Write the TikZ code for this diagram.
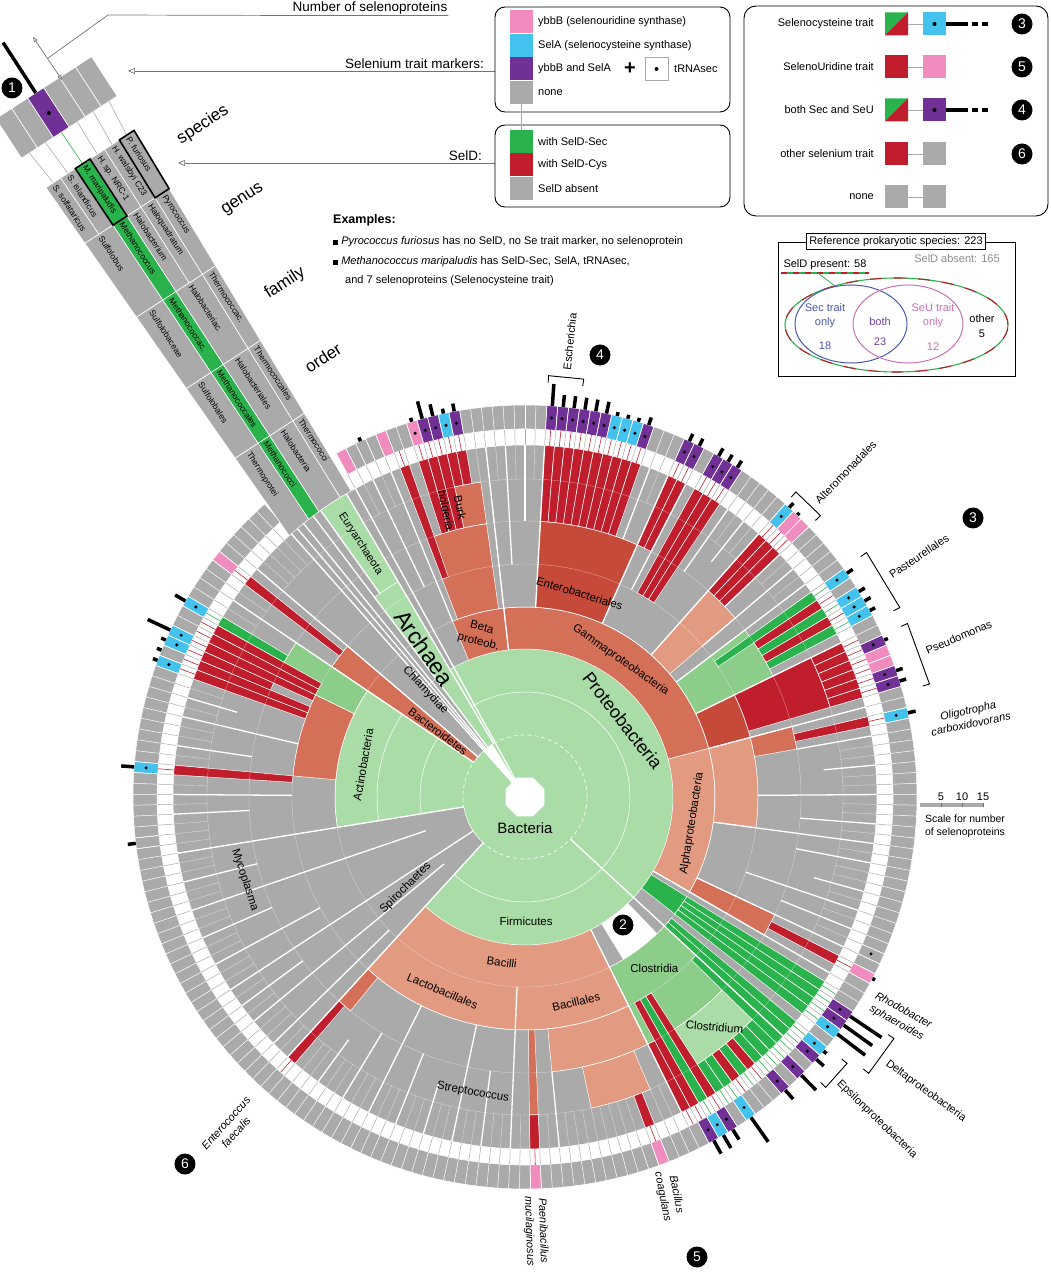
\documentclass[tikz,border=0pt]{standalone}
\usepackage{fontspec}
\setmainfont{Liberation Sans}
\usetikzlibrary{arrows.meta}

\definecolor{cgrey}{RGB}{170,170,170}
\definecolor{sgreen}{RGB}{42,178,76}
\definecolor{sred}{RGB}{192,30,45}
\definecolor{lgreen}{RGB}{170,220,168}
\definecolor{mgreen}{RGB}{140,205,138}
\definecolor{lsalmon}{RGB}{226,154,128}
\definecolor{salmon}{RGB}{212,112,88}
\definecolor{dsalmon}{RGB}{198,74,58}
\definecolor{mpink}{RGB}{240,140,190}
\definecolor{mcyan}{RGB}{66,194,236}
\definecolor{mpurple}{RGB}{112,48,150}
\definecolor{secblue}{RGB}{72,86,172}
\definecolor{seupink}{RGB}{200,112,180}
\definecolor{bothpurple}{RGB}{112,64,160}

\newcommand{\fsz}[1]{\fontsize{#1}{#1}\selectfont\baselineskip=1.25\baselineskip}
% annular sector: angles #1,#2, radii #3,#4
\newcommand{\asect}[5]{\filldraw[fill=#5,draw=white,line width=0.5] (#1:#3) arc[start angle=#1,end angle=#2,radius=#3] -- (#2:#4) arc[start angle=#2,end angle=#1,radius=#4] -- cycle;}
% the same over species cells #1..#2
\newcommand{\ksect}[5]{\pgfmathsetmacro\kA{118.8-1.6*#1}\pgfmathsetmacro\kB{118.8-1.6*(#2+1)}\asect{\kA}{\kB}{#3}{#4}{#5}}
% one species strip out to the white ring
\newcommand{\sstrip}[3]{\ksect{#1}{#1}{#2}{352}{#3}\pgfmathsetmacro\kC{118-1.6*#1}\draw[#3,line width=0.6] (\kC:352) -- (\kC:368);}
% bracket
\newcommand{\brak}[3]{\draw[line width=0.9] (#1:{#3-7}) -- (#1:#3) -- (#2:#3) -- (#2:{#3-7});}
% cell of the archaea beam: from #1 to #2, columns #3..#4
\newcommand{\bcell}[7]{\filldraw[fill=#5,draw=white,line width=0.6] ({#1},{(#3/6-0.5)*(105-0.068*(#1))}) -- ({#2},{(#3/6-0.5)*(105-0.068*(#2))}) -- ({#2},{(#4/6-0.5)*(105-0.068*(#2))}) -- ({#1},{(#4/6-0.5)*(105-0.068*(#1))}) -- cycle;
 \node[anchor=west,rotate=-57,font=\fsz{8.5},inner sep=0pt] (#6) at ({#1+3},{((#3+#4)/12-0.5)*(105-0.068*(#1))}) {#7};}

\begin{document}
\begin{tikzpicture}[x=1pt,y=1pt,
  lab/.style={font=\fsz{11},inner sep=1pt},
  clab/.style={font=\fsz{11.5},inner sep=0pt},
  ilab/.style={font=\fsz{11}\itshape,inner sep=1pt,align=center},
  num/.style={circle,fill=black,text=white,inner sep=0pt,minimum size=21pt,font=\fsz{14}},
  sq/.style={minimum size=23pt,inner sep=0pt,outer sep=0pt},
  leader/.style={draw=black!55,line width=0.7pt},
  openarr/.style={-{Triangle[open,length=7pt,width=6pt]}},
  bar/.style={line width=3.5pt},
  blab/.style={font=\fsz{17},inner sep=0pt,rotate=33}]

\useasboundingbox (-525,-483) rectangle (525,797);

% marker ring
\asect{118.8}{-228.4}{368}{392}{cgrey}
\foreach \ka/\col/\dt/\bl in {0/mpink/0/0,2/cgrey/0/4,4/mpink/0/0,7/mpink/1/4,8/mpurple/1/18,9/mpurple/1/12,10/mcyan/1/5,11/mpurple/1/8,
  20/mpurple/1/22,21/mpurple/1/12,22/mpurple/1/12,23/mpurple/1/12,24/mpurple/1/12,25/mpurple/1/12,26/mcyan/1/4,27/mcyan/1/4,28/mcyan/1/4,29/mpurple/1/8,
  33/mpurple/1/8,34/mpurple/1/8,36/mpurple/1/9,37/mpurple/1/8,38/mpurple/1/8,44/mcyan/1/6,45/mpink/0/3,46/mpink/0/0,
  52/mcyan/1/7,54/mcyan/1/7,55/mcyan/1/7,56/mcyan/1/6,59/mpurple/1/4,60/mpink/0/0,61/mpink/0/0,62/mpurple/1/7,63/mpurple/1/7,
  66/mcyan/1/8,89/cgrey/1/0,91/mpink/0/3,95/mpurple/1/38,96/mpurple/1/35,97/mcyan/1/35,99/mcyan/1/4,100/mpurple/1/10,
  102/mpurple/1/21,104/mpurple/1/12,108/mcyan/1/30,110/mpurple/1/12,111/mcyan/1/15,112/mpurple/1/15,117/mpink/0/0,129/mpink/0/0,
  182/cgrey/0/8,189/mcyan/1/13,199/mcyan/1/5,200/cgrey/0/5,201/mcyan/1/5,202/mcyan/1/25,205/mcyan/1/12,210/mpink/0/0} {
  \pgfmathsetmacro\mkA{118.8-1.6*\ka}\pgfmathsetmacro\mkB{\mkA-1.6}\pgfmathsetmacro\mkC{\mkA-0.8}
  \asect{\mkA}{\mkB}{368}{392}{\col}
  \ifnum\dt=1 \fill (\mkC:380) circle (1.7);\fi
  \draw[bar] (\mkC:392) -- (\mkC:{392+\bl});
}
\foreach \ka in {0,...,217} {
  \pgfmathsetmacro\mkA{118.8-1.6*\ka}
  \draw[cgrey,line width=0.5] (\mkA:352) -- (\mkA:368);
  \draw[white,line width=0.5] (\mkA:368) -- (\mkA:392);
}

% archaea beam
\begin{scope}[shift={(-435,638)},rotate=-57]
  \foreach \cl/\col in {0/cgrey,1/cgrey,2/mpurple,3/cgrey,4/cgrey,5/cgrey}
    \filldraw[fill=\col,draw=white,line width=0.6] (-85,{(\cl/6-0.5)*114}) -- (-38,{(\cl/6-0.5)*114}) -- (-38,{((\cl+1)/6-0.5)*114}) -- (-85,{((\cl+1)/6-0.5)*114}) -- cycle;
  \fill (-61,-9.5) circle (2);
  \draw[bar] (-85,-9.5) -- (-145,-9.5);
  \foreach \cl/\col in {0/cgrey,1/cgrey,2/sgreen,3/cgrey,4/cgrey,5/cgrey}
    \draw[\col,line width=0.6] (-38,{((2*\cl+1)/12-0.5)*114}) -- (0,{((2*\cl+1)/12-0.5)*105});
  \bcell{0}{68}{0}{1}{cgrey}{bs1}{S. solfataricus}
  \bcell{0}{68}{1}{2}{cgrey}{bs2}{S. islandicus}
  \bcell{0}{68}{2}{3}{sgreen}{bs3}{M. maripaludis}
  \bcell{0}{68}{3}{4}{cgrey}{bs4}{H. sp. NRC-1}
  \bcell{0}{68}{4}{5}{cgrey}{bs5}{H. walsbyi C23}
  \bcell{0}{68}{5}{6}{cgrey}{bs6}{P. furiosus}
  \bcell{68}{158}{0}{2}{cgrey}{bg1}{Sulfolobus}
  \bcell{68}{158}{2}{3}{sgreen}{bg2}{Methanococcus}
  \bcell{68}{158}{3}{4}{cgrey}{bg3}{Halobacterium}
  \bcell{68}{158}{4}{5}{cgrey}{bg4}{Haloquadratum}
  \bcell{68}{158}{5}{6}{cgrey}{bg5}{Pyrococcus}
  \bcell{158}{245}{0}{2}{cgrey}{bf1}{Sulfolobaceae}
  \bcell{158}{245}{2}{3}{sgreen}{bf2}{Methanococcac.}
  \bcell{158}{245}{3}{5}{cgrey}{bf3}{Halobacteriac.}
  \bcell{158}{245}{5}{6}{cgrey}{bf4}{Thermococcac.}
  \bcell{245}{330}{0}{2}{cgrey}{bo1}{Sulfolobales}
  \bcell{245}{330}{2}{3}{sgreen}{bo2}{Methanococcales}
  \bcell{245}{330}{3}{5}{cgrey}{bo3}{Halobacteriales}
  \bcell{245}{330}{5}{6}{cgrey}{bo4}{Thermococcales}
  \bcell{330}{440}{0}{2}{cgrey}{bc1}{Thermoprotei}
  \bcell{330}{440}{2}{3}{sgreen}{bc2}{Methanococci}
  \bcell{330}{440}{3}{5}{cgrey}{bc3}{Halobacteria}
  \bcell{330}{440}{5}{6}{cgrey}{bc4}{Thermococci}
  \draw[line width=1.6] (0,-17.5) -- (68,{-(105-0.068*68)/6}) -- (68,0) -- (0,0) -- cycle;
  \draw[line width=1.6] (0,35) -- (68,{(105-0.068*68)/3}) -- (68,{(105-0.068*68)/2}) -- (0,52.5) -- cycle;
\end{scope}

% tree
\fill[lgreen] (0,0) circle (148);
\draw[white,line width=0.6,dash pattern=on 4pt off 3pt] (0,0) circle (62);
\draw[white,line width=0.5] (0,0) circle (105);
\foreach \ka/\kb/\ra/\rb/\col in {157/180/62/352/cgrey,208/211/62/233/salmon,208/211/233/352/cgrey,212/216/62/352/cgrey,
  0/13/148/352/cgrey,4/13/148/190/salmon,5/12/190/276/salmon,10/12/276/318/salmon,
  14/64/148/190/salmon,14/64/190/352/cgrey,20/32/190/276/dsalmon,44/48/190/276/lsalmon,51/57/190/276/mgreen,58/64/190/233/dsalmon,58/63/233/318/sred,
  65/92/148/190/lsalmon,65/92/190/352/cgrey,65/78/190/233/lsalmon,65/67/233/276/salmon,90/92/190/276/salmon,
  93/100/148/352/cgrey,94/97/148/190/sgreen,
  101/113/148/352/cgrey,103/110/148/190/white,101/113/190/276/mgreen,102/109/276/318/lgreen,
  114/156/148/233/lsalmon,114/156/233/352/cgrey,114/126/233/276/lsalmon,116/122/276/318/lsalmon,129/129/233/318/salmon,155/156/233/276/salmon,
  181/207/148/190/lgreen,181/207/190/352/cgrey,190/202/190/233/salmon,203/207/190/276/mgreen}
  {\ksect{\ka}{\kb}{\ra}{\rb}{\col}}
% archaea in the circle
\asect{118.8}{131.6}{148}{352}{cgrey}
\asect{127}{131.6}{62}{148}{cgrey}
\asect{120.5}{127}{62}{250}{lgreen}
\asect{120.5}{125.5}{250}{352}{lgreen}
\asect{122}{131.6}{18}{62}{white}
\foreach \ka/\rr/\col in {5/233/sred,7/276/sred,8/276/sred,9/276/sred,10/318/sred,11/318/sred,
  20/276/sred,21/276/sred,22/276/sred,23/276/sred,24/276/sred,25/276/sred,26/276/sred,27/276/sred,28/276/sred,29/276/sred,
  33/276/sred,34/276/sred,36/233/sred,37/233/sred,38/233/sred,44/276/sred,45/276/sred,46/276/sred,
  52/233/sgreen,53/276/sred,54/276/sgreen,55/276/sred,56/276/sgreen,
  58/318/sred,59/318/sred,60/318/sred,61/318/sred,62/318/sred,63/318/sred,66/276/sred,91/276/sred,
  94/190/sgreen,95/190/sgreen,96/190/sgreen,97/190/sgreen,99/190/sgreen,100/190/sgreen,
  101/233/sgreen,102/318/sgreen,103/318/sgreen,104/318/sgreen,105/318/sred,106/318/sgreen,107/318/sred,108/318/sgreen,
  109/318/sgreen,110/233/sred,111/233/sgreen,112/233/sred,113/276/sred,117/318/sred,129/318/sred,156/276/sred,
  189/233/sred,199/233/sred,200/233/sred,201/276/sred,202/233/sred,203/233/sred,204/233/sred,205/276/sgreen,210/233/sred}
  {\sstrip{\ka}{\rr}{\col}}
% white gaps between clades
\foreach \ka/\rr in {0/20,4/190,14/148,20/190,33/190,44/190,49/233,51/190,58/190,65/190,79/190,90/190,93/148,101/62,114/148,132/190,
  157/62,166/62,181/62,208/62,212/62,217/20,2/233,16/233,18/276,31/276,35/233,40/276,42/300,47/276,68/276,71/300,74/233,
  77/276,81/276,84/300,86/233,88/276,127/276,135/276,138/233,141/300,144/276,147/233,150/276,153/300,159/190,162/105,
  164/276,169/233,172/276,175/105,178/276,185/276,187/233,192/276,195/233,197/300}
  {\draw[white,line width=1.3] ({118.8-1.6*\ka}:\rr) -- ({118.8-1.6*\ka}:352);}
\foreach \ang/\rr in {120.5/62,127/62,125.5/250,129/62,130.3/62}
  {\draw[white,line width=1.3] (\ang:\rr) -- (\ang:352);}
\foreach \rr in {190,233,276,318}
  {\draw[white,opacity=0.45,line width=0.4] (0,0) circle (\rr);}
\foreach \ka in {0,...,217}
  {\draw[white,opacity=0.55,line width=0.4] ({118.8-1.6*\ka}:318) -- ({118.8-1.6*\ka}:352);}
\fill[white] (22.5:21) \foreach \t in {67.5,112.5,...,337.5} {-- (\t:21)} -- cycle;

% clade labels
\node[font=\fsz{15},inner sep=0pt] (lbBac) at (0,-31) {Bacteria};
\node[font=\fsz{18},inner sep=0pt,rotate=-52] (lbPro) at (38:124) {Proteobacteria};
\node[font=\fsz{23},inner sep=0pt,rotate=-55] (lbArc) at (124:180) {Archaea};
\node[clab,rotate=-35] (lbGam) at (55:167) {Gammaproteobacteria};
\node[clab,rotate=81] (lbAlp) at (-9:169) {Alphaproteobacteria};
\node[clab,rotate=-14,align=center] (lbBet) at (105.5:168) {Beta\\proteob.};
\node[clab,rotate=-17] (lbEnt) at (75:211) {Enterobacteriales};
\node[clab,rotate=-47] (lbChl) at (133:146) {Chlamydiae};
\node[clab,rotate=-37] (lbBct) at (143:109) {Bacteroidetes};
\node[clab,rotate=80] (lbAct) at (168.7:165) {Actinobacteria};
\node[font=\fsz{11},inner sep=0pt,rotate=-57] (lbEur) at (123:302) {Euryarchaeota};
\node[clab,rotate=-72] (lbMyc) at (196.5:292) {Mycoplasma};
\node[clab,rotate=45] (lbSpi) at (217.3:150) {Spirochaetes};
\node[clab] (lbFir) at (-89.5:124) {Firmicutes};
\node[clab,rotate=-7] (lbBci) at (-98:167) {Bacilli};
\node[clab,rotate=-23] (lbLac) at (-113:211) {Lactobacillales};
\node[clab,rotate=13] (lbBcl) at (-76:211) {Bacillales};
\node[clab,rotate=-10] (lbStr) at (-100:300) {Streptococcus};
\node[clab] (lbClo) at (-53:215) {Clostridia};
\node[clab,rotate=-5] (lbClm) at (-50.5:298) {Clostridium};
\node[clab,rotate=-78,align=center] (lbBur) at (104:297) {Burk\\holderia};

% outside labels
\node[lab,anchor=west,rotate=84] (lbEsc) at (84.4:428) {Escherichia};
\brak{86.8}{82}{422}
\node[lab,anchor=west,rotate=46] (lbAlt) at (45.3:414) {Alteromonadales};
\brak{48.4}{43.6}{408}
\node[lab,anchor=west,rotate=34] (lbPas) at (31.2:426) {Pasteurellales};
\brak{35.6}{26.8}{420}
\node[lab,anchor=west,rotate=23] (lbPse) at (20:426) {Pseudomonas};
\brak{24.4}{15.6}{420}
\node[ilab,anchor=west,rotate=12] (lbOli) at (10:410) {Oligotropha\\carboxidovorans};
\node[ilab,anchor=west,rotate=-29] (lbRho) at (-30.5:402) {Rhodobacter\\sphaeroides};
\node[lab,anchor=west,rotate=-36] (lbDel) at (-36.3:448) {Deltaproteobacteria};
\brak{-33.2}{-38.8}{441}
\node[lab,anchor=west,rotate=-44] (lbEps) at (-42.3:423) {Epsilonproteobacteria};
\brak{-39.6}{-44}{418}
\node[ilab,anchor=west,rotate=-79] (lbBco) at (-69.5:398) {Bacillus\\coagulans};
\node[ilab,anchor=west,rotate=-88] (lbPae) at (-88.6:398) {Paenibacillus\\mucilaginosus};
\node[ilab,anchor=east,rotate=48] (lbEnc) at (-131.6:408) {Enterococcus\\faecalis};

\node[num] (n1) at (-513,709) {1};
\node[num] (n2) at (98,-128) {2};
\node[num] (n3) at (448,279) {3};
\node[num] (n4) at (75,442) {4};
\node[num] (n5) at (172,-460) {5};
\node[num] (n6) at (-340,-367) {6};

% scale
\draw[cgrey,line width=3.5] (395,-8) -- (458,-8);
\foreach \xx/\v in {416/5,437/10,458/15} {
  \draw[black!55,line width=0.6] (\xx,-10) -- (\xx,-6);
  \node[font=\fsz{11},anchor=south,inner sep=1pt] (sc\v) at (\xx,-5) {\v};
}
\node[font=\fsz{10.5},align=center,inner sep=0pt] (sclab) at (440,-29) {Scale for number\\of selenoproteins};

% beam labels and leaders
\node[blab] (bspe) at (-322,672) {species};
\node[blab] (bgen) at (-282,597) {genus};
\node[blab] (bfam) at (-240,514) {family};
\node[blab] (bord) at (-202,439) {order};
\coordinate (nbtop) at (-492,760);
\coordinate (nbbot) at (-463,717);
\coordinate (nbmid) at (-477.5,738.5);
\draw[leader,{Triangle[open,length=5pt,width=4pt]}-{Triangle[open,length=5pt,width=4pt]}] (nbtop) -- (nbbot);
\node[font=\fsz{13.5},inner sep=1pt] (nsel) at (-155,789) {Number of selenoproteins};
\draw[leader] (nsel.south east) -- (nsel.south west) -- (-417,782) -- (nbmid);
\node[font=\fsz{13.5},anchor=south east,inner sep=1pt] (strm) at (-40,727) {Selenium trait markers:};
\coordinate (mkbox) at (-30,726);
\coordinate (mktip) at (-397,726);
\draw[leader,openarr] (mkbox) -- (mktip);
\node[font=\fsz{13.5},anchor=south east,inner sep=1pt] (seld) at (-42,635) {SelD:};
\coordinate (sdbox) at (-30,634);
\coordinate (sdtip) at (-347,634);
\draw[leader,openarr] (sdbox) -- (sdtip);

% legend of markers
\node[draw,rounded corners=10pt,line width=0.9,minimum width=235pt,minimum height=105pt,inner sep=0pt] (lgA) at (87.5,737.5) {};
\foreach \col/\yy/\nm/\t in {mpink/775.25/la1/{ybbB (selenouridine synthase)},mcyan/751.75/la2/{SelA (selenocysteine synthase)},mpurple/728.25/la3/{ybbB and SelA},cgrey/704.75/la4/{none}} {
  \node[sq,fill=\col] (\nm) at (-3.5,\yy) {};
  \node[lab,anchor=west] (t\nm) at (12,\yy) {\t};
}
\node[font=\fsz{20}\bfseries,inner sep=0pt] (plus) at (105,728) {+};
\node[sq,draw=cgrey,line width=0.8] (trna) at (131.5,728) {};
\fill (trna.center) circle (2);
\node[lab,anchor=west] (ttrna) at (148,728) {tRNAsec};
\node[draw,rounded corners=10pt,line width=0.9,minimum width=235pt,minimum height=82pt,inner sep=0pt] (lgB) at (87.5,631) {};
\foreach \col/\yy/\nm/\t in {sgreen/655.5/lb1/{with SelD-Sec},sred/632/lb2/{with SelD-Cys},cgrey/608.5/lb3/{SelD absent}} {
  \node[sq,fill=\col] (\nm) at (-3.5,\yy) {};
  \node[lab,anchor=west] (t\nm) at (12,\yy) {\t};
}
\draw[cgrey,line width=0.8] (la4.south) -- (lb1.north);

% examples
\node[font=\fsz{12.5}\bfseries,anchor=west,inner sep=0pt] (exh) at (-192,577) {Examples:};
\node[lab,anchor=west] (ex1) at (-193,555) {\rule{5pt}{5pt}\ \textit{Pyrococcus furiosus} has no SelD, no Se trait marker, no selenoprotein};
\node[lab,anchor=west] (ex2) at (-193,535) {\rule{5pt}{5pt}\ \textit{Methanococcus maripaludis} has SelD-Sec, SelA, tRNAsec,};
\node[lab,anchor=west] (ex3) at (-181,516) {and 7 selenoproteins (Selenocysteine trait)};

% legend of traits
\node[draw,rounded corners=12pt,line width=0.9,minimum width=304pt,minimum height=210pt,inner sep=0pt] (lgC) at (371,686) {};
\foreach \yy/\nm/\t in {773/r1/{Selenocysteine trait},730/r2/{SelenoUridine trait},687/r3/{both Sec and SeU},643/r4/{other selenium trait},600/r5/{none}}
  {\node[lab,anchor=east] (t\nm) at (350,\yy) {\t};}
\foreach \yy/\nm in {773/r1,687/r3} {
  \node[sq] (\nm a) at (371.5,\yy) {};
  \fill[sgreen] (\nm a.north west) -- (\nm a.north east) -- (\nm a.south west) -- cycle;
  \fill[sred] (\nm a.north east) -- (\nm a.south east) -- (\nm a.south west) -- cycle;
}
\node[sq,fill=sred] (r2a) at (371.5,730) {};
\node[sq,fill=sred] (r4a) at (371.5,643) {};
\node[sq,fill=cgrey] (r5a) at (371.5,600) {};
\foreach \yy/\nm/\col in {773/r1/mcyan,730/r2/mpink,687/r3/mpurple,643/r4/cgrey,600/r5/cgrey} {
  \node[sq,fill=\col] (\nm b) at (409.5,\yy) {};
  \draw[cgrey,line width=0.8] (\nm a.east) -- (\nm b.west);
}
\foreach \nm in {r1,r3} {
  \fill (\nm b.center) circle (2);
  \draw[bar] (\nm b.east) -- ++(22,0) ++(4,0) -- ++(6,0) ++(4,0) -- ++(6,0);
}
\foreach \yy/\v in {773/3,730/5,687/4,643/6} {\node[num] (k\v) at (497,\yy) {\v};}

% venn
\draw[line width=0.9] (253,421) rectangle (490,555);
\node[draw,fill=white,line width=1.3,font=\fsz{11},inner sep=3pt] (vtit) at (371,555.5) {Reference prokaryotic species: 223};
\node[lab] (vpre) at (300,532) {SelD present: 58};
\node[lab,text=black!45] (vabs) at (432,538) {SelD absent: 165};
\draw[sgreen,line width=1.2] (256,524) -- (344,524);
\draw[sred,line width=1.2,dash pattern=on 6pt off 6pt] (256,524) -- (344,524);
\draw[sgreen,line width=1.1] (371.5,472) ellipse [x radius=111.5,y radius=47];
\draw[sred,line width=1.1,dash pattern=on 12pt off 12pt] (371.5,472) ellipse [x radius=111.5,y radius=47];
\coordinate (vu) at (293,524);
\coordinate (ve) at (310,511);
\draw[sgreen,line width=0.8] (vu) -- (ve);
\draw[secblue,line width=1] (326,473) ellipse [x radius=56,y radius=39];
\draw[seupink,line width=1] (383,473) ellipse [x radius=55,y radius=39];
\node[lab,text=secblue,align=center] (vsec) at (300,481) {Sec trait\\only};
\node[lab,text=secblue] (vsecn) at (300,451) {18};
\node[lab,text=bothpurple] (vbot) at (355,475) {both};
\node[lab,text=bothpurple] (vbotn) at (355,455) {23};
\node[lab,text=seupink,align=center] (vseu) at (408,481) {SeU trait\\only};
\node[lab,text=seupink] (vseun) at (408,450) {12};
\node[lab] (voth) at (457,478) {other};
\node[lab] (vothn) at (457,463) {5};
\end{tikzpicture}
\end{document}
